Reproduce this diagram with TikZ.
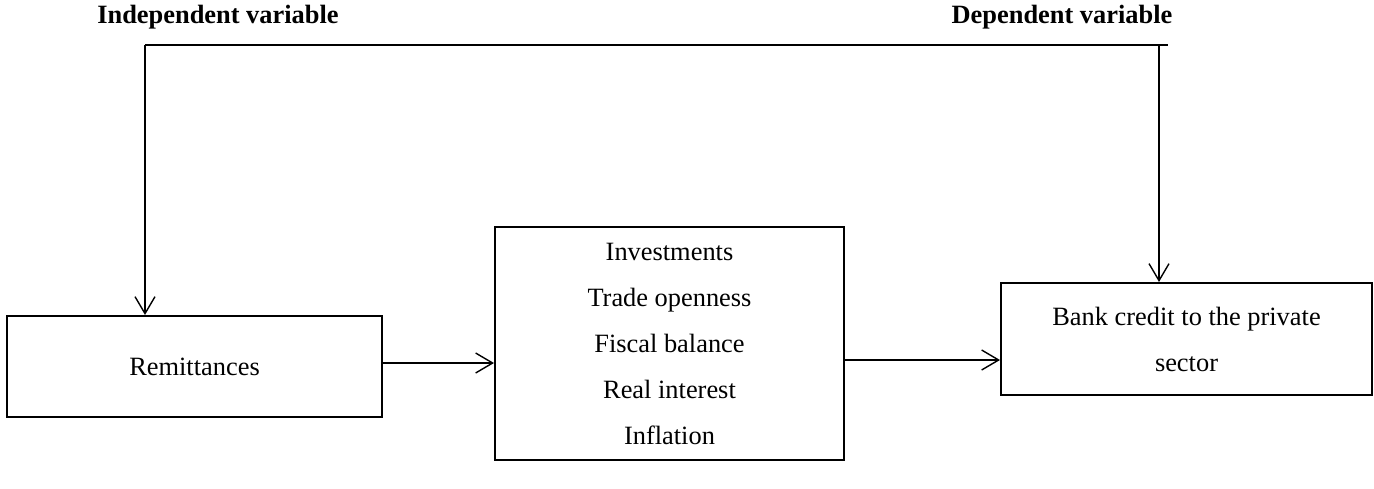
\documentclass[tikz,border=0pt]{standalone}
\usepackage{fontspec}
\setmainfont{Liberation Serif}
\usetikzlibrary{arrows.meta}
\newcommand{\txt}[0]{\fontsize{13.2}{23}\selectfont}
\newcommand{\barb}[0]{{Straight Barb[length=8.5pt,width=10pt]}}

\begin{document}
\begin{tikzpicture}[x=0.5pt,y=-0.5pt,
	box/.style={draw,line width=1pt,font=\txt,align=center,inner sep=0pt},
	arr/.style={-\barb,line width=0.7pt},
	title/.style={font=\txt\bfseries}]
	\useasboundingbox (0,0) rectangle (1374,488);
	\node[box,minimum width=187.5pt,minimum height=50.5pt] (remit) at (194.5,366.5) {Remittances};
	\node[box,minimum width=174.5pt,minimum height=116.5pt] (mid) at (669.5,343.5)
		{Investments\\Trade openness\\Fiscal balance\\Real interest\\Inflation};
	\node[box,minimum width=185.5pt,minimum height=56pt] (bank) at (1186.5,339)
		{Bank credit to the private\\sector};
	\node[title] (indep) at (218,17) {Independent variable};
	\node[title] (dep) at (1062,17) {Dependent variable};
	\coordinate (topL) at (145,45);
	\coordinate (topB) at (1159,45);
	\coordinate (topR) at (1168,45);
	\draw[line width=0.8pt] (topL) -- (topR);
	\draw[arr] (topL) -- (topL |- remit.north);
	\draw[arr] (topB) -- (topB |- bank.north);
	\draw[arr] ([yshift=1.75pt]remit.east) -- ([yshift=1.75pt]remit.east -| mid.west);
	\draw[arr] ([yshift=-8.25pt]mid.east) -- ([yshift=-8.25pt]mid.east -| bank.west);
\end{tikzpicture}
\end{document}
